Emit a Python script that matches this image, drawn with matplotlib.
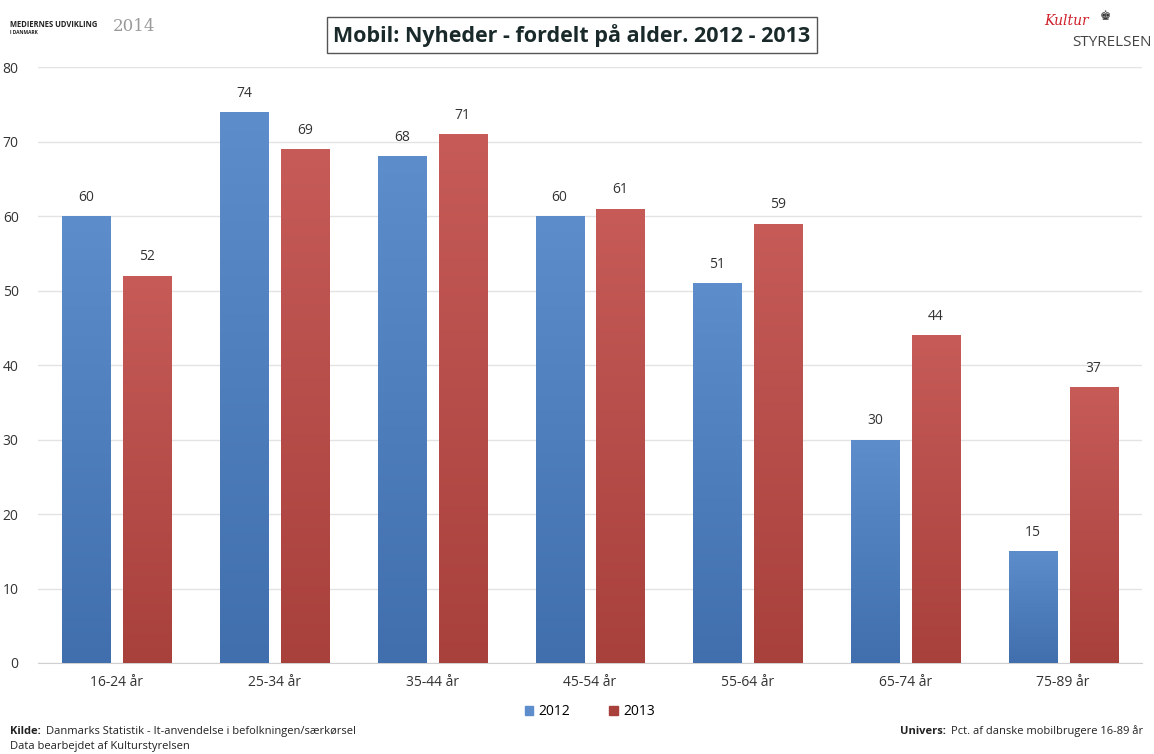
import numpy as np
import matplotlib.pyplot as plt
from matplotlib.colors import LinearSegmentedColormap
from matplotlib.patches import Rectangle

plt.rcParams['font.family'] = ['Open Sans', 'DejaVu Sans']

# Andel der bruger mobilen til nyheder, pct.
age_groups = ["16-24 år", "25-34 år", "35-44 år", "45-54 år", "55-64 år", "65-74 år", "75-89 år"]
years = ["2012", "2013"]
values_2012 = [60, 74, 68, 60, 51, 30, 15]
values_2013 = [52, 69, 71, 61, 59, 44, 37]

blue_top, blue_bottom = "#5d8dcb", "#416fae"
red_top, red_bottom = "#c65b58", "#a8403c"

fig = plt.figure(figsize=(11.54, 7.54), dpi=100)
ax = fig.add_axes([0.033, 0.1207, 0.9566, 0.7903])

x = np.arange(len(age_groups))
width = 0.305
offset = 0.193


def gradient_bars(xs, heights, top, bottom, label):
    bars = ax.bar(xs, heights, width, color=bottom, label=label, zorder=2)
    cmap = LinearSegmentedColormap.from_list(label, [bottom, top])
    grad = np.linspace(0, 1, 256).reshape(-1, 1)
    for b in bars:
        x0, w, h = b.get_x(), b.get_width(), b.get_height()
        im = ax.imshow(grad, cmap=cmap, origin="lower", aspect="auto",
                       extent=(x0, x0 + w, 0, h), zorder=3)
        clip = Rectangle((x0, 0), w, h, transform=ax.transData)
        im.set_clip_path(clip)
        ax.text(x0 + w / 2, h + 1.5, f"{h:g}", ha="center", va="bottom",
                fontsize=10, color="#333333")
    return bars


gradient_bars(x - offset, values_2012, blue_top, blue_bottom, years[0])
gradient_bars(x + offset, values_2013, red_top, red_bottom, years[1])

ax.set_xlim(-0.5, len(age_groups) - 0.5)
ax.set_ylim(0, 80)
ax.set_yticks(range(0, 81, 10))
ax.set_xticks(x)
ax.set_xticklabels(age_groups)
ax.tick_params(length=0, labelsize=10, colors="#333333")
ax.tick_params(axis="y", pad=14)
ax.tick_params(axis="x", pad=9)
ax.yaxis.grid(True, color="#e3e3e3", linewidth=1, zorder=0)
ax.set_axisbelow(True)
for side in ["top", "right", "left"]:
    ax.spines[side].set_visible(False)
ax.spines["bottom"].set_color("#d0d0d0")

leg = ax.legend(loc="upper center", bbox_to_anchor=(0.5, -0.048), ncol=2,
                frameon=False, fontsize=10, handlelength=0.6, handleheight=0.6,
                columnspacing=2.8, handletextpad=0.4)
leg.legend_handles[0].set_color(blue_top)
leg.legend_handles[1].set_color(red_bottom)

# titel i boks
fig.text(0.4955, 0.953, "Mobil: Nyheder - fordelt på alder. 2012 - 2013",
         ha="center", va="center", fontsize=15.5, fontweight="bold", color="#1a2a2a",
         bbox=dict(boxstyle="square,pad=0.3", facecolor="white", edgecolor="#555555", linewidth=1))

# hoved-logo venstre
fig.text(0.009, 0.967, "MEDIERNES UDVIKLING", fontsize=5.5, fontweight="bold", color="#222222", va="center")
fig.text(0.009, 0.957, "I DANMARK", fontsize=3.5, fontweight="bold", color="#222222", va="center")
fig.text(0.098, 0.965, "2014", fontsize=12, color="#9a9a9a", va="center", family="DejaVu Serif")

# logo højre
fig.text(0.905, 0.972, "Kultur", fontsize=10, color="#d0202a", style="italic", va="center",
         family="DejaVu Serif")
fig.text(0.953, 0.978, "♚", fontsize=9, color="#333333", va="center", family="DejaVu Sans")
fig.text(0.998, 0.944, "STYRELSEN", fontsize=11, color="#444444", ha="right", va="center")

# kilde og univers
fig.text(0.009, 0.030, "Kilde:", fontsize=8, fontweight="bold", color="#222222", va="center")
fig.text(0.040, 0.030, "Danmarks Statistik - It-anvendelse i befolkningen/særkørsel",
         fontsize=8, color="#222222", va="center")
fig.text(0.009, 0.010, "Data bearbejdet af Kulturstyrelsen", fontsize=8, color="#222222", va="center")
fig.text(0.780, 0.030, "Univers:", fontsize=8, fontweight="bold", color="#222222", va="center")
fig.text(0.824, 0.030, "Pct. af danske mobilbrugere 16-89 år", fontsize=8, color="#222222", va="center")

fig.savefig("out.png", dpi=100)
